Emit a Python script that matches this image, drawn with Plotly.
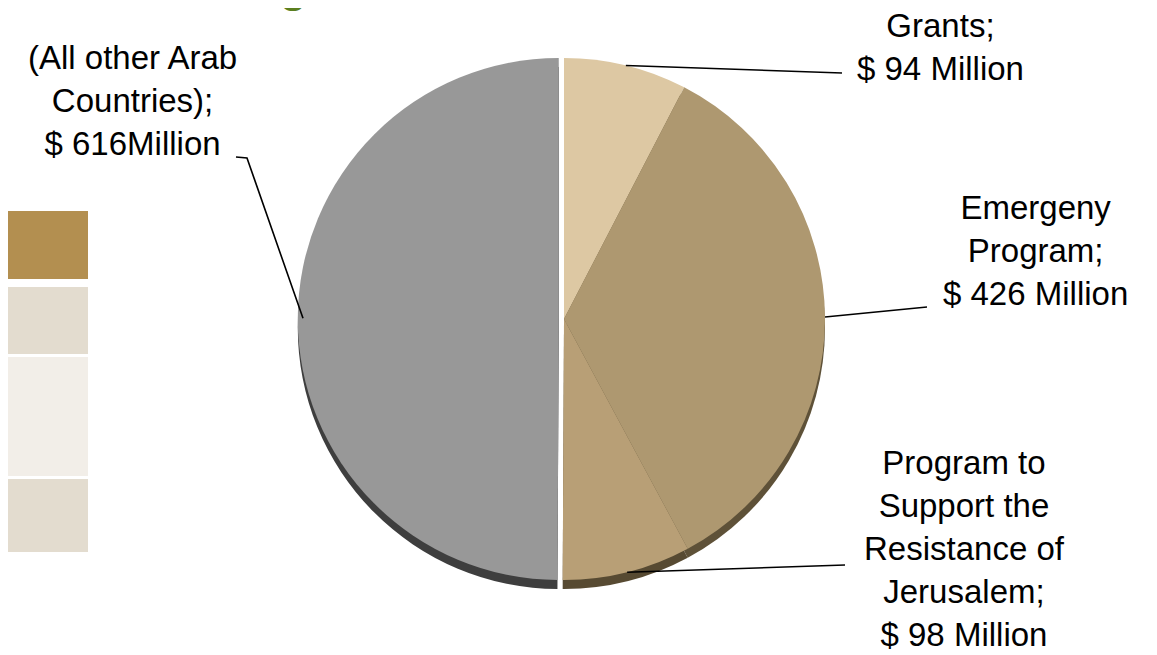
import math
import plotly.graph_objects as go

# ---------------- data ----------------
labels = ["Grants", "Emergeny Program",
          "Program to Support the Resistance of Jerusalem",
          "(All other Arab Countries)"]
values = [94, 426, 98, 616]
label_texts = [
    "Grants;<br>$ 94 Million",
    "Emergeny<br>Program;<br>$ 426 Million",
    "Program to<br>Support the<br>Resistance of<br>Jerusalem;<br>$ 98 Million",
    "(All other Arab<br>Countries);<br>$ 616Million",
]

# ---------------- styles / layout ----------------
OFF = 8                            # page body margin
W, H = 1157 - OFF, 655 - OFF       # figure size so that it fits the window
CX, CY, R = 564, 319, 261          # pie centre (page px) and radius
RIM = 9                            # depth of the 3-D rim
PULL = [0, 0, 0, 0.02]
top_colors = ["#DDC8A3", "#AE9870", "#B89F76", "#989898"]
rim_colors = ["#6E5F43", "#5E5138", "#574A32", "#3E3E3E"]
FONT = "Liberation Sans, Arial, sans-serif"
FS = 33

# label centre positions (page px) and the end of each leader line
label_pos = [(940, 47), (1035, 251), (964, 548), (132, 101)]
line_end = [(842, 73), (927, 307), (845, 565), (236, 157)]
arab_bend = (247, 158)

# left table cells (page px): y0, y1, colour
table_cells = [(211, 279, "#B38F50"), (287, 354, "#E3DCCF"),
               (357, 476, "#F2EEE8"), (479, 552, "#E3DCCF")]
TABLE_X1 = 88


def px(x):
    return (x - OFF) / W


def py(y):
    return 1 - (y - OFF) / H


half = R * (1 + max(PULL))


def dom(shift=0):
    return dict(x=[px(CX - half), px(CX + half)],
                y=[py(CY + shift + half), py(CY + shift - half)])


fig = go.Figure()
# rim (drawn behind, shifted down)
fig.add_trace(go.Pie(labels=labels, values=values, sort=False,
                     direction="clockwise", rotation=0, pull=PULL,
                     marker=dict(colors=rim_colors, line=dict(width=0)),
                     textinfo="none", hoverinfo="skip", showlegend=False,
                     domain=dom(RIM)))
# top surface
fig.add_trace(go.Pie(labels=labels, values=values, sort=False,
                     direction="clockwise", rotation=0, pull=PULL,
                     marker=dict(colors=top_colors, line=dict(width=0)),
                     textinfo="none", hoverinfo="label+value",
                     showlegend=False, domain=dom(0)))

shapes = []
for y0, y1, c in table_cells:
    shapes.append(dict(type="rect", xref="paper", yref="paper",
                       x0=px(0), x1=px(TABLE_X1), y0=py(y1), y1=py(y0),
                       fillcolor=c, line=dict(width=0), layer="below"))

# leader lines from slice mid-angle on the pie edge
total = sum(values)
cum = 0
annotations = []
for i, v in enumerate(values):
    mid = (cum + v / 2) / total * 2 * math.pi
    cum += v
    ax = CX + R * math.sin(mid)
    ay = CY - R * math.cos(mid)
    ex, ey = line_end[i]
    if i == 3:
        bx, by = arab_bend
        path = (f"M {px(ax)},{py(ay)} L {px(bx)},{py(by)} "
                f"L {px(ex)},{py(ey)}")
    else:
        path = f"M {px(ax)},{py(ay)} L {px(ex)},{py(ey)}"
    shapes.append(dict(type="path", xref="paper", yref="paper", path=path,
                       line=dict(color="black", width=1.6)))
    lx, ly = label_pos[i]
    annotations.append(dict(text=label_texts[i], x=px(lx), y=py(ly),
                            xref="paper", yref="paper", xanchor="center",
                            yanchor="middle", align="center",
                            showarrow=False,
                            font=dict(family=FONT, size=FS, color="black")))

# clipped slide title (only a descender shows at the top edge)
annotations.append(dict(text="<b>g</b>", x=px(293), y=py(-14),
                        xref="paper", yref="paper", xanchor="center",
                        yanchor="middle", showarrow=False,
                        font=dict(family=FONT, size=44, color="#5B7F1F")))

fig.update_layout(width=W, height=H, margin=dict(l=0, r=0, t=0, b=0),
                  paper_bgcolor="white", plot_bgcolor="white",
                  shapes=shapes, annotations=annotations)

fig.write_html("out.html")
